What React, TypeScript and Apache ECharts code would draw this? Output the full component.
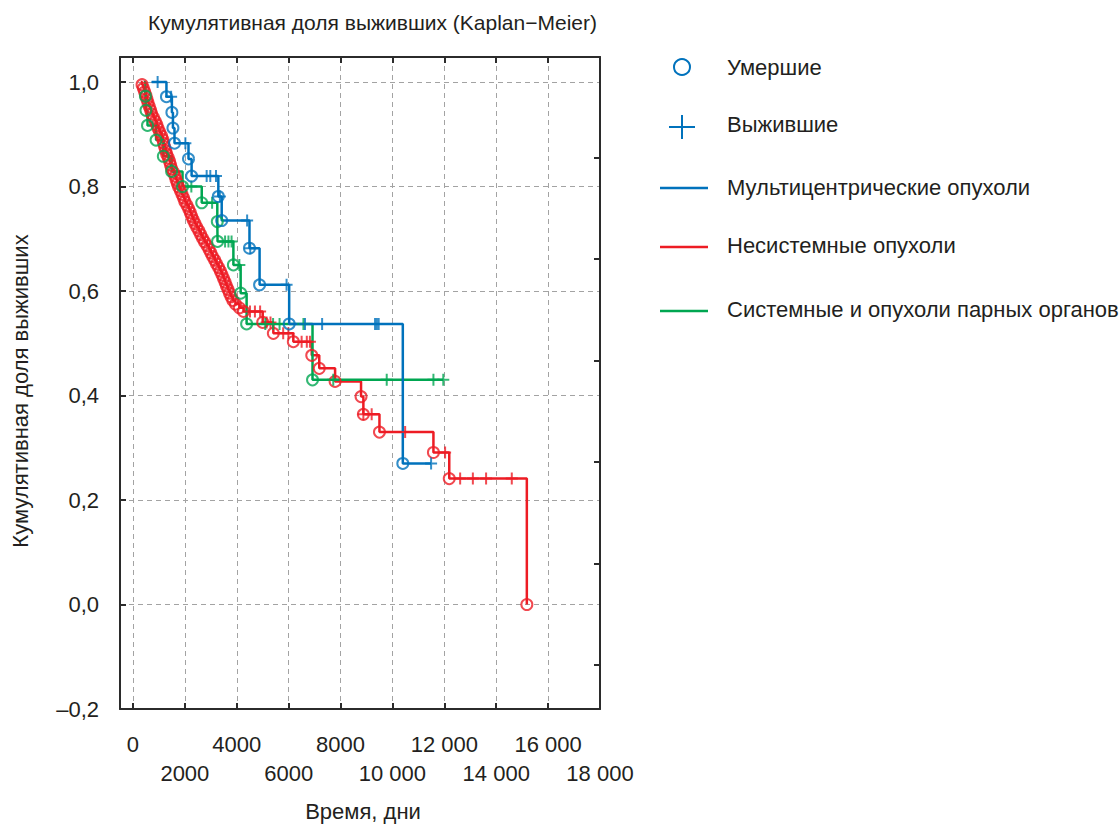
import React, { useEffect, useRef } from "react";
import * as echarts from "echarts";

// ---- axis ticks ----
const xTickValues = [0, 2000, 4000, 6000, 8000, 10000, 12000, 14000, 16000, 18000];
const xLabelsRow1 = [0, 4000, 8000, 12000, 16000];
const xLabelsRow2 = [2000, 6000, 10000, 14000, 18000];
const yTickValues = [-0.2, 0, 0.2, 0.4, 0.6, 0.8, 1.0];
const rightTickValues = [-0.116, 0.0785, 0.273, 0.467, 0.662, 0.856];

// ---- Мультицентрические опухоли (blue) ----
const blueStart = [720, 1.0];
const blueDeaths = [
  [1290, 0.972], [1500, 0.942], [1540, 0.912], [1600, 0.883], [2140, 0.853],
  [2260, 0.82], [3290, 0.781], [3420, 0.735], [4490, 0.682], [4880, 0.612],
  [6020, 0.537], [10400, 0.27],
];
const blueCensored = [
  [950, 1.0], [1470, 0.972], [2020, 0.883], [2840, 0.82], [2980, 0.82],
  [3200, 0.82], [3350, 0.781], [4400, 0.735], [4520, 0.682], [5920, 0.612],
  [6630, 0.537], [7290, 0.537], [9330, 0.537], [9400, 0.537], [9470, 0.537],
  [11490, 0.27],
];

// ---- Несистемные опухоли (red) ----
const redStart = [300, 1.0];
const redDeaths = [
  [350, 0.995], [400, 0.988], [450, 0.981], [500, 0.974], [540, 0.967],
  [580, 0.96], [630, 0.953], [680, 0.946], [720, 0.939], [790, 0.932],
  [860, 0.925], [920, 0.918], [970, 0.911], [1030, 0.904], [1100, 0.897],
  [1150, 0.89], [1180, 0.883], [1220, 0.876], [1260, 0.869], [1300, 0.862],
  [1360, 0.855], [1410, 0.848], [1450, 0.841], [1490, 0.834], [1560, 0.827],
  [1620, 0.82], [1660, 0.813], [1710, 0.806], [1760, 0.799], [1830, 0.792],
  [1890, 0.785], [1950, 0.778], [2000, 0.771], [2080, 0.764], [2150, 0.757],
  [2210, 0.75], [2260, 0.743], [2320, 0.736], [2390, 0.729], [2460, 0.722],
  [2540, 0.715], [2610, 0.708], [2680, 0.701], [2760, 0.694], [2850, 0.687],
  [2930, 0.68], [3000, 0.673], [3070, 0.666], [3150, 0.659], [3220, 0.652],
  [3300, 0.645], [3370, 0.638], [3430, 0.631], [3490, 0.624], [3550, 0.617],
  [3600, 0.61], [3660, 0.603], [3720, 0.596], [3780, 0.589], [3850, 0.582],
  [3950, 0.575], [4100, 0.568], [4260, 0.561], [5000, 0.54], [5410, 0.519],
  [6180, 0.503], [6890, 0.477], [7180, 0.452], [7790, 0.427], [8790, 0.398],
  [8880, 0.364], [9500, 0.33], [11580, 0.291], [12190, 0.241], [15180, 0.0],
];
const redCensored = [
  [4510, 0.561], [4700, 0.561], [4900, 0.561], [5150, 0.54], [5300, 0.54],
  [5790, 0.519], [5990, 0.519], [6500, 0.503], [6700, 0.503], [6820, 0.503],
  [8880, 0.364], [9200, 0.364], [10490, 0.33], [12030, 0.291], [12610, 0.241],
  [13100, 0.241], [13610, 0.241], [14600, 0.241],
];

// ---- Системные и опухоли парных органов (green) ----
const greenStart = [420, 1.0];
const greenDeaths = [
  [480, 0.973], [500, 0.946], [560, 0.917], [890, 0.889], [1170, 0.858],
  [1490, 0.829], [1910, 0.8], [2650, 0.769], [3250, 0.733], [3260, 0.695],
  [3870, 0.65], [4150, 0.596], [4380, 0.537], [6920, 0.43],
];
const greenCensored = [
  [2250, 0.8], [3050, 0.769], [3550, 0.695], [3680, 0.695], [3800, 0.695],
  [4100, 0.65], [5100, 0.537], [5400, 0.537], [5650, 0.537], [6570, 0.537],
  [7720, 0.43], [9780, 0.43], [11580, 0.43], [11960, 0.43],
];

const legendLabels = [
  "Умершие",
  "Выжившие",
  "Мультицентрические опухоли",
  "Несистемные опухоли",
  "Системные и опухоли парных органов",
];

const BLUE = "#0072BC";
const RED = "#ED1C24";
const GREEN = "#00A651";
const FONT = "'Liberation Sans', Arial, Helvetica, sans-serif";
const TXT = "#231f20";
const FRAME = "#2b2b2b";
const PLUS = "path://M-1,-6h2v5h5v2h-5v5h-2v-5h-5v-2h5z";

function buildLine(start: number[], deaths: number[][], cens: number[][]) {
  const pts = [...deaths, ...cens].sort((a, b) => a[0] - b[0] || b[1] - a[1]);
  return [start, ...pts];
}

function groupSeries(name: string, color: string, start: number[], deaths: number[][], cens: number[][], z: number) {
  return [
    {
      name,
      type: "line",
      step: "end",
      data: buildLine(start, deaths, cens),
      showSymbol: false,
      symbol: "none",
      lineStyle: { color, width: 2.5 },
      silent: true,
      z,
    },
    {
      name: name + "-d",
      type: "scatter",
      data: deaths,
      symbol: "circle",
      symbolSize: 11,
      itemStyle: { color: "rgba(0,0,0,0)", borderColor: color, borderWidth: 2 },
      silent: true,
      z: z + 3,
    },
    {
      name: name + "-c",
      type: "scatter",
      data: cens,
      symbol: PLUS,
      symbolSize: 12,
      itemStyle: { color },
      silent: true,
      z: z + 3,
    },
  ];
}

function fmtX(v: number) {
  return v >= 10000 ? String(v).replace(/\B(?=(\d{3})+(?!\d))/g, " ") : String(v);
}

function fmtY(v: number) {
  const s = Math.abs(v).toFixed(1).replace(".", ",");
  return v < -1e-9 ? "–" + s : s;
}

export default function App() {
  const ref = useRef<HTMLDivElement>(null);
  useEffect(() => {
    if (!ref.current) return;
    const chart = echarts.init(ref.current, undefined, { renderer: "svg" });
    const axisLine = { show: true, onZero: false, lineStyle: { color: FRAME, width: 2 } };
    const tickStyle = { color: FRAME, width: 2 };
    const split = { show: true, lineStyle: { color: "#a3a3a3", width: 1, type: [5, 4] } };
    const labelStyle = { color: TXT, fontSize: 22, fontFamily: FONT };
    const legendY = [67, 124, 187, 245, 309];
    const option: any = {
      animation: false,
      backgroundColor: "#ffffff",
      title: {
        text: "Кумулятивная доля выживших (Kaplan−Meier)",
        left: 143,
        top: 7,
        textStyle: { fontSize: 21, fontWeight: "normal", color: TXT, fontFamily: FONT },
      },
      grid: { left: 120, right: 519, top: 57, bottom: 116, containLabel: false, outerBoundsMode: "none" },
      xAxis: [
        {
          type: "value",
          position: "bottom",
          min: -500,
          max: 18000,
          axisLine,
          axisTick: { show: true, inside: true, length: 6, customValues: xTickValues, lineStyle: tickStyle },
          axisLabel: { customValues: xLabelsRow1, formatter: fmtX, margin: 24, ...labelStyle },
          splitLine: split,
          name: "Время, дни",
          nameLocation: "middle",
          nameGap: 91,
          nameTextStyle: { ...labelStyle, padding: [0, 0, 0, 6] },
        },
        {
          type: "value",
          position: "bottom",
          min: -500,
          max: 18000,
          axisLine: { show: false, onZero: false },
          axisTick: { show: false },
          axisLabel: {
            customValues: xLabelsRow2,
            formatter: fmtX,
            margin: 53,
            showMaxLabel: true,
            ...labelStyle,
          },
          splitLine: { show: false },
        },
        {
          type: "value",
          position: "top",
          min: -500,
          max: 18000,
          axisLine,
          axisTick: { show: true, inside: true, length: 6, customValues: xTickValues, lineStyle: tickStyle },
          axisLabel: { show: false },
          splitLine: { show: false },
        },
      ],
      yAxis: [
        {
          type: "value",
          position: "left",
          min: -0.2,
          max: 1.048,
          axisLine,
          axisTick: { show: true, inside: true, length: 6, customValues: yTickValues, lineStyle: tickStyle },
          axisLabel: { customValues: yTickValues, formatter: fmtY, margin: 21, ...labelStyle },
          splitLine: split,
          name: "Кумулятивная доля выживших",
          nameLocation: "middle",
          nameGap: 89,
          nameTextStyle: { ...labelStyle, padding: [0, 16, 0, 0] },
        },
        {
          type: "value",
          position: "right",
          min: -0.2,
          max: 1.048,
          axisLine,
          axisTick: { show: true, inside: true, length: 6, customValues: rightTickValues, lineStyle: tickStyle },
          axisLabel: { show: false },
          splitLine: { show: false },
        },
      ],
      series: [
        ...groupSeries("Несистемные опухоли", RED, redStart, redDeaths, redCensored, 2),
        ...groupSeries("Системные и опухоли парных органов", GREEN, greenStart, greenDeaths, greenCensored, 3),
        ...groupSeries("Мультицентрические опухоли", BLUE, blueStart, blueDeaths, blueCensored, 4),
      ],
      graphic: [
        { type: "circle", shape: { cx: 682, cy: legendY[0], r: 8 }, style: { fill: "none", stroke: BLUE, lineWidth: 2 } },
        { type: "line", shape: { x1: 669, y1: legendY[1] + 3, x2: 695, y2: legendY[1] + 3 }, style: { stroke: BLUE, lineWidth: 2 } },
        { type: "line", shape: { x1: 682, y1: legendY[1] - 9, x2: 682, y2: legendY[1] + 15 }, style: { stroke: BLUE, lineWidth: 2 } },
        { type: "line", shape: { x1: 660, y1: legendY[2] + 1, x2: 708, y2: legendY[2] + 1 }, style: { stroke: BLUE, lineWidth: 2.5 } },
        { type: "line", shape: { x1: 660, y1: legendY[3] + 2, x2: 708, y2: legendY[3] + 2 }, style: { stroke: RED, lineWidth: 2.5 } },
        { type: "line", shape: { x1: 660, y1: legendY[4] + 2, x2: 708, y2: legendY[4] + 2 }, style: { stroke: GREEN, lineWidth: 2.5 } },
        ...legendLabels.map((t, i) => ({
          type: "text",
          x: 727,
          y: legendY[i],
          style: { text: t, fill: TXT, fontSize: 22, fontFamily: FONT, textVerticalAlign: "middle", verticalAlign: "middle" },
        })),
      ],
    };
    chart.setOption(option);
    return () => chart.dispose();
  }, []);
  return <div ref={ref} style={{ position: "fixed", left: 0, top: 0, width: 1119, height: 825 }} />;
}
